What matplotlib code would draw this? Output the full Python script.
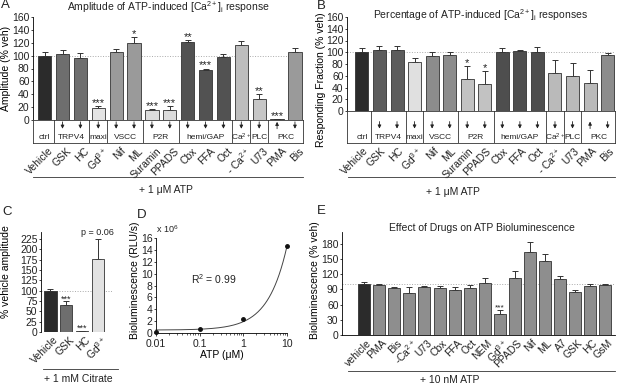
import numpy as np
import matplotlib
matplotlib.use('Agg')
import matplotlib.pyplot as plt
from matplotlib import transforms
from matplotlib.ticker import FuncFormatter, LogLocator, NullFormatter, FixedLocator

plt.rcParams['font.family'] = ['Liberation Sans', 'DejaVu Sans']
plt.rcParams['mathtext.fontset'] = 'custom'
plt.rcParams['mathtext.rm'] = 'Liberation Sans'
plt.rcParams['mathtext.it'] = 'Liberation Sans:italic'
plt.rcParams['mathtext.bf'] = 'Liberation Sans:bold'
plt.rcParams['axes.linewidth'] = 0.6
plt.rcParams['xtick.major.width'] = 0.6
plt.rcParams['ytick.major.width'] = 0.6
plt.rcParams['text.color'] = '#222222'
plt.rcParams['xtick.color'] = '#222222'
plt.rcParams['ytick.color'] = '#222222'

W, H = 617, 386
FS = 7.5  # tick / axis label size

# ---------------- data ----------------
# panels A and B (1 uM ATP)
drugs_ab = ['Vehicle', 'GSK', 'HC', 'Gd$^{3+}$', 'Nif', 'ML', 'Suramin', 'PPADS',
            'Cbx', 'FFA', 'Oct', '- Ca$^{2+}$', 'U73', 'PMA', 'Bis']
amp_mean = [100, 103, 96, 18, 105, 120, 15, 15, 121, 77, 98, 116, 32, 1, 105]
amp_err = [5, 5, 8, 4, 5, 9, 2, 7, 3, 3, 4, 7, 9, 0, 7]
amp_sig = ['', '', '', '***', '', '*', '***', '***', '**', '***', '', '', '**', '***', '']

frac_mean = [101, 103, 104, 84, 93, 96, 54, 46, 101, 102, 100, 65, 60, 47, 96]
frac_err = [6, 7, 7, 7, 7, 4, 22, 22, 7, 1, 9, 22, 21, 22, 2]
frac_sig = ['', '', '', '', '', '', '*', '*', '', '', '', '', '', '', '']

targets = ['ctrl', 'TRPV4', 'maxi', 'VSCC', 'P2R', 'hemi/GAP', 'Ca$^{2+}$', 'PLC', 'PKC']
target_size = [1, 2, 1, 2, 2, 3, 1, 1, 2]
effect = ['', 'down', 'down', 'down', 'down', 'down', 'down', 'down',
          'down', 'down', 'down', 'down', 'down', 'up', 'down']

# panel C (1 mM citrate)
drugs_c = ['Vehicle', 'GSK', 'HC', 'Gd$^{3+}$']
cit_mean = [100, 66, 2, 176]
cit_err = [4, 8, 0, 48]
cit_sig = ['', '***', '***', 'p = 0.06']

# panel D (ATP standard curve)
atp_um = [0.01, 0.1, 1, 10]
rlu = [0.2e6, 0.6e6, 2.3e6, 14.6e6]

# panel E (10 nM ATP)
drugs_e = ['vehicle', 'PMA', 'Bis', '-Ca$^{2+}$', 'U73', 'Cbx', 'FFA', 'Oct', 'NEM',
           'Gd$^{3+}$', 'PPADS', 'Nif', 'ML', 'A7', 'GSK', 'HC', 'GsM']
lum_mean = [100, 99, 93, 83, 94, 92, 88, 93, 102, 41, 112, 164, 146, 111, 84, 96, 99]
lum_err = [5, 1, 2, 12, 3, 4, 7, 5, 11, 9, 14, 20, 13, 5, 4, 5, 1]
lum_sig = [''] * 9 + ['***'] + [''] * 7

# colours
colors_a = ['#2b2b2b', '#6e6e6e', '#6e6e6e', '#e4e4e4', '#9a9a9a', '#9a9a9a', '#dcdcdc', '#dcdcdc',
            '#525252', '#525252', '#525252', '#bdbdbd', '#c6c6c6', '#2b2b2b', '#9a9a9a']
colors_b = ['#2b2b2b', '#5c5c5c', '#5c5c5c', '#e0e0e0', '#8c8c8c', '#8c8c8c', '#c2c2c2', '#c2c2c2',
            '#4e4e4e', '#4e4e4e', '#4e4e4e', '#bababa', '#bababa', '#bababa', '#8c8c8c']
colors_c = ['#2b2b2b', '#6e6e6e', '#6e6e6e', '#e2e2e2']
colors_e = ['#2b2b2b'] + ['#8e8e8e'] * 16

EDGE = '#333333'


def px_box(left, top, right, bottom):
    return [left / W, 1 - bottom / H, (right - left) / W, (bottom - top) / H]


def shift_px(dx, dy=0):
    return transforms.ScaledTranslation(dx / 100, dy / 100, fig.dpi_scale_trans)


def draw_bars(ax, means, errs, colors, width):
    x = np.arange(len(means))
    ax.bar(x, means, width=width, color=colors, edgecolor=EDGE, linewidth=0.6, zorder=2)
    ax.errorbar(x, means, yerr=[np.zeros(len(errs)), errs], fmt='none', ecolor=EDGE,
                elinewidth=0.7, capsize=2, capthick=0.7, zorder=1)
    ax.axhline(100, color='#aaaaaa', ls=':', lw=0.7, zorder=0)


def draw_stars(ax, means, errs, sig, size, pad=0):
    for i, s in enumerate(sig):
        if s:
            ax.text(i, means[i] + errs[i] + pad, s, ha='center', va='baseline', fontsize=size)


def style_axes(ax):
    for s in ['top', 'right']:
        ax.spines[s].set_visible(False)
    ax.tick_params(axis='y', length=1.5, labelsize=FS, pad=1)


def rotated_labels(ax, names, size=FS, dx=4):
    ax.set_xticks(np.arange(len(names)))
    ax.set_xticklabels(names, rotation=45, ha='right', rotation_mode='anchor', fontsize=size)
    ax.tick_params(axis='x', length=0, pad=2)
    for lab in ax.get_xticklabels():
        lab.set_transform(lab.get_transform() + shift_px(dx))


def draw_table(tax, xlim, arrow_top, arrow_bot, label_y):
    tax.set_xlim(xlim)
    tax.set_ylim(0, 1)
    tax.set_yticks([])
    for s in tax.spines.values():
        s.set_color(EDGE)
        s.set_linewidth(0.6)
    ends = np.cumsum(target_size)
    starts = ends - np.array(target_size)
    for e in ends[:-1]:
        tax.axvline(e - 0.5, color=EDGE, lw=0.6)
    for st, sz, name in zip(starts, target_size, targets):
        tax.text(st + (sz - 1) / 2, label_y, name, ha='center', va='center', fontsize=6)
    for i, eff in enumerate(effect):
        if eff == 'down':
            tax.annotate('', xy=(i, arrow_bot), xytext=(i, arrow_top),
                         arrowprops=dict(arrowstyle='-|>', lw=0.6, color='#222222',
                                         mutation_scale=5, shrinkA=0, shrinkB=0))
        elif eff == 'up':
            tax.annotate('', xy=(i, arrow_top), xytext=(i, arrow_bot),
                         arrowprops=dict(arrowstyle='-|>', lw=0.6, color='#222222',
                                         mutation_scale=5, shrinkA=0, shrinkB=0))


def bracket(x0, x1, y_line, y_text, x_text, text):
    fig.add_artist(plt.Line2D([x0 / W, x1 / W], [1 - y_line / H, 1 - y_line / H],
                              color=EDGE, lw=0.6, transform=fig.transFigure))
    fig.text(x_text / W, 1 - y_text / H, text, ha='center', va='center', fontsize=FS)


fig = plt.figure(figsize=(W / 100, H / 100), dpi=100)

# ---------------- panel A ----------------
axA = fig.add_axes(px_box(33, 17, 303, 120))
xlimA = (-0.65, 14.45)
draw_bars(axA, amp_mean, amp_err, colors_a, 0.74)
draw_stars(axA, amp_mean, amp_err, amp_sig, 8)
axA.set_xlim(xlimA)
axA.set_ylim(0, 160)
axA.set_yticks(range(0, 161, 20))
axA.set_xticks([])
style_axes(axA)
axA.spines['bottom'].set_visible(False)
axA.set_ylabel('Amplitude (% veh)', fontsize=FS)
axA.yaxis.set_label_coords(-0.08, 0.5)
tA = fig.add_axes(px_box(33, 120, 303, 143))
draw_table(tA, xlimA, 0.92, 0.62, 0.26)
rotated_labels(tA, drugs_ab)
bracket(33, 303, 177, 190, 166, '+ 1 μM ATP')
fig.text(168 / W, 1 - 7 / H, 'Amplitude of ATP-induced [Ca$^{2+}$]$_\\mathrm{i}$ response',
         ha='center', va='center', fontsize=7.5)

# ---------------- panel B ----------------
axB = fig.add_axes(px_box(347, 17, 615, 111))
xlimB = (-0.85, 14.42)
draw_bars(axB, frac_mean, frac_err, colors_b, 0.74)
draw_stars(axB, frac_mean, frac_err, frac_sig, 8)
axB.set_xlim(xlimB)
axB.set_ylim(0, 160)
axB.set_yticks(range(0, 161, 20))
axB.set_xticks([])
style_axes(axB)
axB.spines['bottom'].set_visible(False)
axB.set_ylabel('Responding Fraction (% veh)', fontsize=FS)
axB.yaxis.set_label_coords(-0.08, 0.33)
tB = fig.add_axes(px_box(347, 111, 615, 143))
draw_table(tB, xlimB, 0.67, 0.45, 0.17)
rotated_labels(tB, drugs_ab, dx=1)
bracket(348, 615, 177, 192, 453, '+ 1 μM ATP')
fig.text(480 / W, 1 - 15 / H, 'Percentage of ATP-induced [Ca$^{2+}$]$_\\mathrm{i}$ responses',
         ha='center', va='center', fontsize=7.5)

# ---------------- panel C ----------------
axC = fig.add_axes(px_box(41, 232, 112, 332))
draw_bars(axC, cit_mean, cit_err, colors_c, 0.77)
draw_stars(axC, cit_mean[:3], cit_err[:3], cit_sig[:3], 6.5)
axC.text(3, cit_mean[3] + cit_err[3] + 6, cit_sig[3], ha='center', va='bottom', fontsize=6.5)
axC.set_xlim(-0.6, 3.9)
axC.set_ylim(0, 242)
axC.set_yticks(range(0, 226, 25))
style_axes(axC)
axC.spines['bottom'].set_visible(False)
rotated_labels(axC, drugs_c, dx=3)
axC.set_ylabel('% vehicle amplitude', fontsize=FS)
axC.yaxis.set_label_coords(-0.42, 0.6)
bracket(43, 118, 369, 379, 78, '+ 1 mM Citrate')

# ---------------- panel D ----------------
axD = fig.add_axes(px_box(156, 238, 287, 333))
slope, intercept = np.polyfit(atp_um, rlu, 1)
xfit = np.logspace(np.log10(atp_um[0]), np.log10(atp_um[-1]), 200)
axD.plot(xfit, slope * xfit + intercept, color='#444444', lw=0.7, clip_on=False)
axD.plot(atp_um, rlu, 'o', color='#111111', ms=2.5, clip_on=False, zorder=3)
axD.set_xscale('log')
axD.set_xlim(0.01, 10)
axD.set_ylim(0, 16e6)
axD.yaxis.set_major_locator(FixedLocator(np.arange(0, 16.1e6, 2e6)))
axD.yaxis.set_major_formatter(FuncFormatter(lambda v, p: f'{v / 1e6:g}'))
axD.xaxis.set_major_formatter(FuncFormatter(lambda v, p: f'{v:g}'))
axD.xaxis.set_minor_locator(LogLocator(base=10, subs=np.arange(2, 10)))
axD.xaxis.set_minor_formatter(NullFormatter())
style_axes(axD)
axD.tick_params(axis='x', which='major', length=2, labelsize=FS, pad=2)
axD.tick_params(axis='x', which='minor', length=1.2, width=0.5)
axD.text(0.0, 1.03, 'x 10$^{6}$', transform=axD.transAxes, ha='left', va='bottom', fontsize=6.5)
axD.text(0.065, 9e6, 'R$^{2}$ = 0.99', ha='left', va='center', fontsize=FS)
axD.set_xlabel('ATP (μM)', fontsize=FS, labelpad=1)
axD.set_ylabel('Bioluminescence (RLU/s)', fontsize=FS)
axD.yaxis.set_label_coords(-0.125, 0.56)

# ---------------- panel E ----------------
axE = fig.add_axes(px_box(342, 232, 615, 335))
draw_bars(axE, lum_mean, lum_err, colors_e, 0.8)
draw_stars(axE, lum_mean, lum_err, lum_sig, 6)
axE.set_xlim(-1.48, 16.66)
axE.set_ylim(0, 203)
axE.set_yticks(range(0, 181, 30))
style_axes(axE)
rotated_labels(axE, drugs_e, dx=2)
axE.set_ylabel('Bioluminescence (% veh)', fontsize=FS)
axE.yaxis.set_label_coords(-0.082, 0.53)
bracket(348, 615, 371, 380, 450, '+ 10 nM ATP')
fig.text(482 / W, 1 - 228 / H, 'Effect of Drugs on ATP Bioluminescence',
         ha='center', va='center', fontsize=7.5)

# panel letters
for letter, (lx, ly) in zip('ABCDE', [(5, 5), (321, 6), (7, 212), (142, 215), (321, 211)]):
    fig.text(lx / W, 1 - ly / H, letter, ha='center', va='center', fontsize=9.5)

fig.savefig('out.png', dpi=100)
